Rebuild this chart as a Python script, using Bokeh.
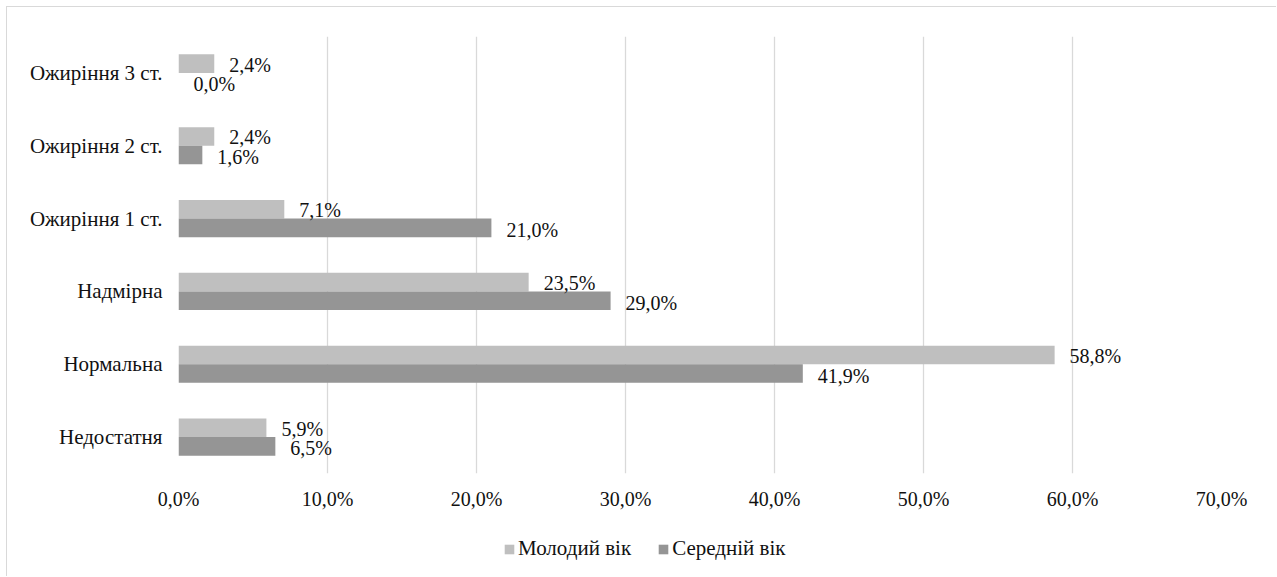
from bokeh.plotting import figure
from bokeh.layouts import column
from bokeh.models import ColumnDataSource, FactorRange, Legend, LegendItem, FixedTicker, CustomJSTickFormatter
from bokeh.transform import dodge
from bokeh.core.properties import value
from bokeh.embed import file_html
from bokeh.resources import INLINE

categories = ["Недостатня", "Нормальна", "Надмірна", "Ожиріння 1 ст.", "Ожиріння 2 ст.", "Ожиріння 3 ст."]
young = [5.9, 58.8, 23.5, 7.1, 2.4, 2.4]
middle = [6.5, 41.9, 29.0, 21.0, 1.6, 0.0]
series_names = ["Молодий вік", "Середній вік"]
series_colors = ["#bfbfbf", "#959595"]
tick_values = [0, 10, 20, 30, 40, 50, 60, 70]

FONT = "Liberation Serif"
FS = "20px"
FS_CAT = "21px"
TXT = "#111111"

def fmt(v):
    return ("%.1f" % v).replace(".", ",") + "%"

src = ColumnDataSource(dict(
    cat=categories,
    young=young,
    middle=middle,
    young_lbl=[fmt(v) for v in young],
    middle_lbl=[fmt(v) for v in middle],
))

p = figure(
    width=1269, height=520,
    y_range=FactorRange(*categories),
    x_range=(0, 70),
    output_backend="svg", toolbar_location=None,
    min_border_left=171, min_border_right=55, min_border_top=29, min_border_bottom=54,
)
p.outline_line_color = None
p.background_fill_color = "white"
p.border_fill_color = "white"

bh = 0.255
r1 = p.hbar(y=dodge("cat", bh / 2, range=p.y_range), right="young", left=0, height=bh,
            source=src, fill_color=series_colors[0], line_color=None)
r2 = p.hbar(y=dodge("cat", -bh / 2, range=p.y_range), right="middle", left=0, height=bh,
            source=src, fill_color=series_colors[1], line_color=None)

p.text(x="young", y=dodge("cat", bh / 2, range=p.y_range), text="young_lbl", source=src,
       x_offset=15, y_offset=1, text_align="left", text_baseline="middle",
       text_font=value(FONT), text_font_size=FS, text_color=TXT)
p.text(x="middle", y=dodge("cat", -bh / 2, range=p.y_range), text="middle_lbl", source=src,
       x_offset=15, y_offset=2, text_align="left", text_baseline="middle",
       text_font=value(FONT), text_font_size=FS, text_color=TXT)

p.xaxis.ticker = FixedTicker(ticks=tick_values)
p.xaxis.formatter = CustomJSTickFormatter(code="return tick.toFixed(1).replace('.', ',') + '%';")
for ax in (p.xaxis, p.yaxis):
    ax.axis_line_color = None
    ax.major_tick_line_color = None
    ax.minor_tick_line_color = None
    ax.major_tick_out = 0
    ax.major_tick_in = 0
    ax.major_label_text_font = FONT
    ax.major_label_text_color = TXT
p.xaxis.major_label_text_font_size = FS
p.yaxis.major_label_text_font_size = FS_CAT
p.xaxis.major_label_standoff = 14
p.yaxis.major_label_standoff = 16

p.xgrid.grid_line_color = "#d9d9d9"
p.xgrid.grid_line_width = 1.3
p.ygrid.grid_line_color = None

# legend strip below the chart
lf = figure(width=1269, height=49, x_range=(0, 1), y_range=(0, 1),
            output_backend="svg", toolbar_location=None, min_border=0)
lf.axis.visible = False
lf.grid.visible = False
lf.outline_line_color = None
# zero-size placeholder glyphs, only used as legend swatches
swatch = ColumnDataSource(dict(y=[0], left=[0], right=[0]))
l1 = lf.hbar(y="y", left="left", right="right", height=0, source=swatch,
             fill_color=series_colors[0], line_color=None)
l2 = lf.hbar(y="y", left="left", right="right", height=0, source=swatch,
             fill_color=series_colors[1], line_color=None)

legend = Legend(
    items=[LegendItem(label=series_names[0], renderers=[l1]),
           LegendItem(label=series_names[1], renderers=[l2])],
    location=(325, 15), orientation="horizontal",
    glyph_width=12, glyph_height=12, label_standoff=3, spacing=26,
    padding=0, margin=0, border_line_color=None, background_fill_alpha=0,
    label_text_font=FONT, label_text_font_size=FS_CAT, label_text_color=TXT,
    label_height=20,
)
lf.add_layout(legend)

layout = column(p, lf, spacing=0,
                styles={"border-left": "1px solid #d9d9d9", "border-top": "1px solid #d9d9d9",
                        "margin-left": "6px", "margin-top": "6px"})

open("out.html", "w").write(file_html(layout, INLINE))
